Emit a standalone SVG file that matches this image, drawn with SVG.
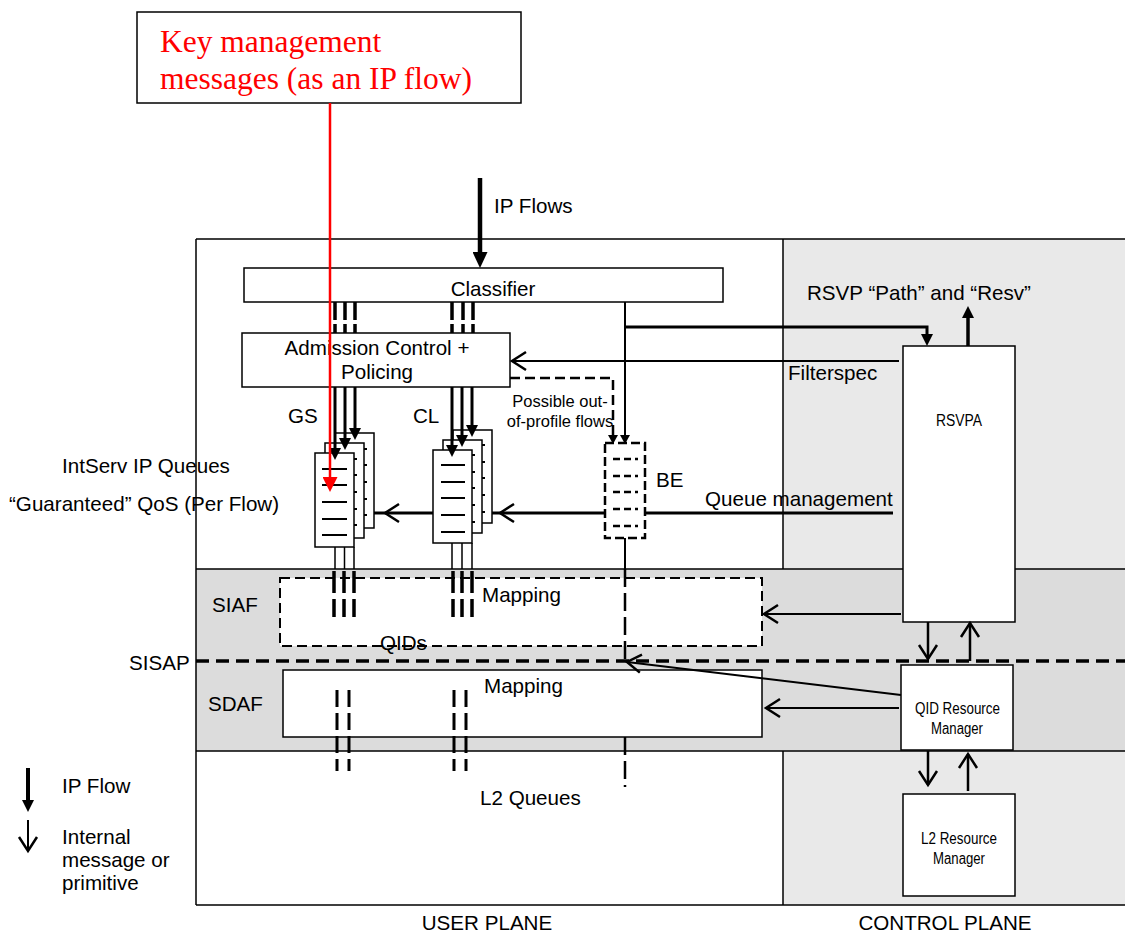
<svg xmlns="http://www.w3.org/2000/svg" width="1125" height="933" viewBox="0 0 1125 933">
<style>
.t{font-family:"Liberation Sans",Arial,sans-serif;font-size:20.6px;fill:#000}
.s{font-family:"Liberation Sans",Arial,sans-serif;font-size:16.5px;fill:#000}
.n{font-family:"Liberation Sans",Arial,sans-serif;font-size:16px;fill:#000}
.red{font-family:"Liberation Serif","Times New Roman",serif;font-size:31.5px;fill:#ff0000}
.box{fill:#fff;stroke:#000;stroke-width:1.5}
.q{fill:#fff;stroke:#000;stroke-width:1.5}
.ql{stroke:#000;stroke-width:2}
.ln{fill:none;stroke:#000}
</style>
<defs>
<marker id="fb" viewBox="0 0 16 15" refX="0" refY="7.5" markerWidth="16" markerHeight="15" markerUnits="userSpaceOnUse" orient="auto"><path d="M0,0L16,7.5L0,15z" fill="#000"/></marker>
<marker id="fm" viewBox="0 0 12 12" refX="0" refY="6" markerWidth="12" markerHeight="12" markerUnits="userSpaceOnUse" orient="auto"><path d="M0,0L12,6L0,12z" fill="#000"/></marker>
<marker id="fs" viewBox="0 0 9 10" refX="0" refY="5" markerWidth="9" markerHeight="10" markerUnits="userSpaceOnUse" orient="auto"><path d="M0,0L9,5L0,10z" fill="#000"/></marker>
<marker id="fr" viewBox="0 0 15 15" refX="0" refY="7.5" markerWidth="15" markerHeight="15" markerUnits="userSpaceOnUse" orient="auto"><path d="M0,0L15,7.5L0,15z" fill="#ff0000"/></marker>
<marker id="oa" viewBox="0 0 14 18" refX="14" refY="9" markerWidth="14" markerHeight="18" markerUnits="userSpaceOnUse" orient="auto" overflow="visible"><path d="M0,0L14,9L0,18" fill="none" stroke="#000" stroke-width="2.5"/></marker>
</defs>

<g id="planes">
<rect x="196" y="239" width="929" height="666" fill="#fff"/>
<rect x="783" y="239" width="342" height="666" fill="#e9e9e9"/>
<rect x="196" y="569" width="929" height="182" fill="#dcdcdc"/>
<path class="ln" stroke-width="1.5" d="M196,239H1125M196,905H1125M196,239V905M783,239V569M783,751V905M196,569H1125M196,751H1125"/>
</g>

<g id="title">
<rect class="box" x="137" y="12" width="384" height="91"/>
<text class="red" x="160" y="52">Key management</text>
<text class="red" x="160" y="89">messages (as an IP flow)</text>
</g>

<g id="classifier">
<rect class="box" x="244" y="268" width="479" height="34"/>
<text class="t" x="493" y="296" text-anchor="middle">Classifier</text>
</g>

<g id="admission">
<rect class="box" x="242" y="333" width="268" height="54"/>
<text class="t" x="377" y="355" text-anchor="middle">Admission Control +</text>
<text class="t" x="377" y="379" text-anchor="middle">Policing</text>
</g>

<g id="gs-queues">
<rect class="q" x="335" y="433" width="39" height="95"/>
<path class="ql" d="M342,449H367M342,465H367M342,482H367M342,499H367M342,515H367"/>
<rect class="q" x="325" y="443" width="39" height="95"/>
<path class="ql" d="M332,459H357M332,475H357M332,492H357M332,509H357M332,525H357"/>
<rect class="q" x="315" y="453" width="39" height="94"/>
<path class="ql" d="M322,469H347M322,485H347M322,502H347M322,519H347M322,535H347"/>
</g>

<g id="cl-queues">
<rect class="q" x="453" y="430" width="39" height="93"/>
<path class="ql" d="M461,445H485M461,462H485M461,478H485M461,495H485M461,512H485"/>
<rect class="q" x="443" y="440" width="39" height="93"/>
<path class="ql" d="M451,455H475M451,472H475M451,488H475M451,505H475M451,522H475"/>
<rect class="q" x="433" y="450" width="39" height="93"/>
<path class="ql" d="M441,465H465M441,482H465M441,498H465M441,515H465M441,532H465"/>
</g>

<g id="be-queue">
<rect x="605" y="443" width="40" height="95" fill="#fff" stroke="#000" stroke-width="2.5" stroke-dasharray="9 4"/>
<path class="ln" stroke-width="2.5" stroke-dasharray="7 4" d="M613,459H638M613,476H638M613,492H638M613,509H638M613,526H638"/>
</g>

<g id="rsvpa">
<rect class="box" x="903" y="346" width="112" height="276"/>
<text class="n" x="936" y="426" textLength="46" lengthAdjust="spacingAndGlyphs">RSVPA</text>
</g>

<g id="siaf">
<rect x="280" y="578" width="482" height="68" fill="#fff" stroke="#000" stroke-width="2" stroke-dasharray="10 5"/>
<text class="t" x="482" y="602">Mapping</text>
<text class="t" x="380" y="650">QIDs</text>
</g>

<g id="sdaf">
<rect class="box" x="283" y="670" width="479" height="67"/>
<text class="t" x="484" y="693">Mapping</text>
</g>

<g id="qid-rm">
<rect class="box" x="901" y="665" width="112" height="85"/>
<text class="n" x="915" y="714" textLength="85" lengthAdjust="spacingAndGlyphs">QID Resource</text>
<text class="n" x="931" y="734" textLength="52" lengthAdjust="spacingAndGlyphs">Manager</text>
</g>

<g id="l2-rm">
<rect class="box" x="903" y="794" width="112" height="102"/>
<text class="n" x="921" y="844" textLength="76" lengthAdjust="spacingAndGlyphs">L2 Resource</text>
<text class="n" x="933" y="864" textLength="52" lengthAdjust="spacingAndGlyphs">Manager</text>
</g>

<g id="connectors">
<path class="ln" stroke-width="4.5" d="M480,178V252" marker-end="url(#fb)"/>
<path class="ln" stroke-width="3.5" stroke-dasharray="18 4" d="M335,302V333M345,302V333M355,302V333M452,302V333M463,302V333M473,302V333"/>
<path class="ln" stroke-width="3" d="M335,387V448" marker-end="url(#fm)"/>
<path class="ln" stroke-width="3" d="M345,387V438" marker-end="url(#fm)"/>
<path class="ln" stroke-width="3" d="M355,387V428" marker-end="url(#fm)"/>
<path class="ln" stroke-width="3" d="M452,387V445" marker-end="url(#fm)"/>
<path class="ln" stroke-width="3" d="M462,387V435" marker-end="url(#fm)"/>
<path class="ln" stroke-width="3" d="M472,387V425" marker-end="url(#fm)"/>
<path class="ln" stroke-width="3" d="M625,327H927V334" marker-end="url(#fm)"/>
<path class="ln" stroke-width="2" d="M625,302V435" marker-end="url(#fs)"/>
<path class="ln" stroke-width="2.5" stroke-dasharray="10 5" d="M510,378H613V435" marker-end="url(#fs)"/>
<path class="ln" stroke-width="3.5" d="M968,346V318" marker-end="url(#fm)"/>
<path class="ln" stroke-width="2" d="M899,361H512" marker-end="url(#oa)"/>
<path class="ln" stroke-width="3" d="M893,513H645"/>
<path class="ln" stroke-width="3" d="M605,513H500" marker-end="url(#oa)"/>
<path class="ln" stroke-width="3" d="M500,513H492"/>
<path class="ln" stroke-width="3" d="M433,513H385" marker-end="url(#oa)"/>
<path class="ln" stroke-width="3" d="M385,513H374"/>
<path class="ln" stroke-width="1.5" d="M335,547V569M344.5,547V569M354,547V569M452,543V569M462,543V569M472,543V569"/>
<path class="ln" stroke-width="3.5" stroke-dasharray="22 6" d="M334,571V617M344,571V617M354,571V617M453,571V617M462,571V617M472,571V617"/>
<path class="ln" stroke-width="3" stroke-dasharray="17 6" d="M337,690V771M349,690V771M454,690V771M466,690V771"/>
<path class="ln" stroke-width="2" d="M625,538V569"/>
<path class="ln" stroke-width="2.5" stroke-dasharray="18 6" d="M625,569V661M625,737V787"/>
<path class="ln" stroke-width="3.5" stroke-dasharray="13 7" d="M196,661H1125"/>
<path class="ln" stroke-width="2" d="M901,614H764" marker-end="url(#oa)"/>
<path class="ln" stroke-width="2.5" d="M928,622V659" marker-end="url(#oa)"/>
<path class="ln" stroke-width="2.5" d="M970,661V623" marker-end="url(#oa)"/>
<path class="ln" stroke-width="2" d="M901,695L627,662" marker-end="url(#oa)"/>
<path class="ln" stroke-width="2" d="M899,708H766" marker-end="url(#oa)"/>
<path class="ln" stroke-width="2.5" d="M928,751V785" marker-end="url(#oa)"/>
<path class="ln" stroke-width="2.5" d="M968,791V754" marker-end="url(#oa)"/>
<path fill="none" stroke="#ff0000" stroke-width="2.5" d="M330,103V477" marker-end="url(#fr)"/>
</g>

<g id="labels">
<text class="t" x="494" y="213">IP Flows</text>
<text class="t" x="807" y="300">RSVP “Path” and “Resv”</text>
<text class="t" x="788" y="380">Filterspec</text>
<text class="s" x="560" y="407" text-anchor="middle">Possible out-</text>
<text class="s" x="560" y="427" text-anchor="middle">of-profile flows</text>
<text class="t" x="288" y="423">GS</text>
<text class="t" x="413" y="423">CL</text>
<text class="t" x="656" y="487">BE</text>
<text class="t" x="705" y="506">Queue management</text>
<text class="t" x="62" y="473">IntServ IP Queues</text>
<text class="t" x="9" y="511">“Guaranteed” QoS (Per Flow)</text>
<text class="t" x="212" y="612">SIAF</text>
<text class="t" x="129" y="670">SISAP</text>
<text class="t" x="208" y="711">SDAF</text>
<text class="t" x="480" y="805">L2 Queues</text>
<text class="t" x="487" y="930" text-anchor="middle">USER PLANE</text>
<text class="t" x="945" y="930" text-anchor="middle">CONTROL PLANE</text>
</g>

<g id="legend">
<path class="ln" stroke-width="4" d="M28,768V800" marker-end="url(#fm)"/>
<text class="t" x="62" y="793">IP Flow</text>
<path class="ln" stroke-width="2" d="M28,820V851" marker-end="url(#oa)"/>
<text class="t" x="62" y="844">Internal</text>
<text class="t" x="62" y="867">message or</text>
<text class="t" x="62" y="890">primitive</text>
</g>
</svg>
